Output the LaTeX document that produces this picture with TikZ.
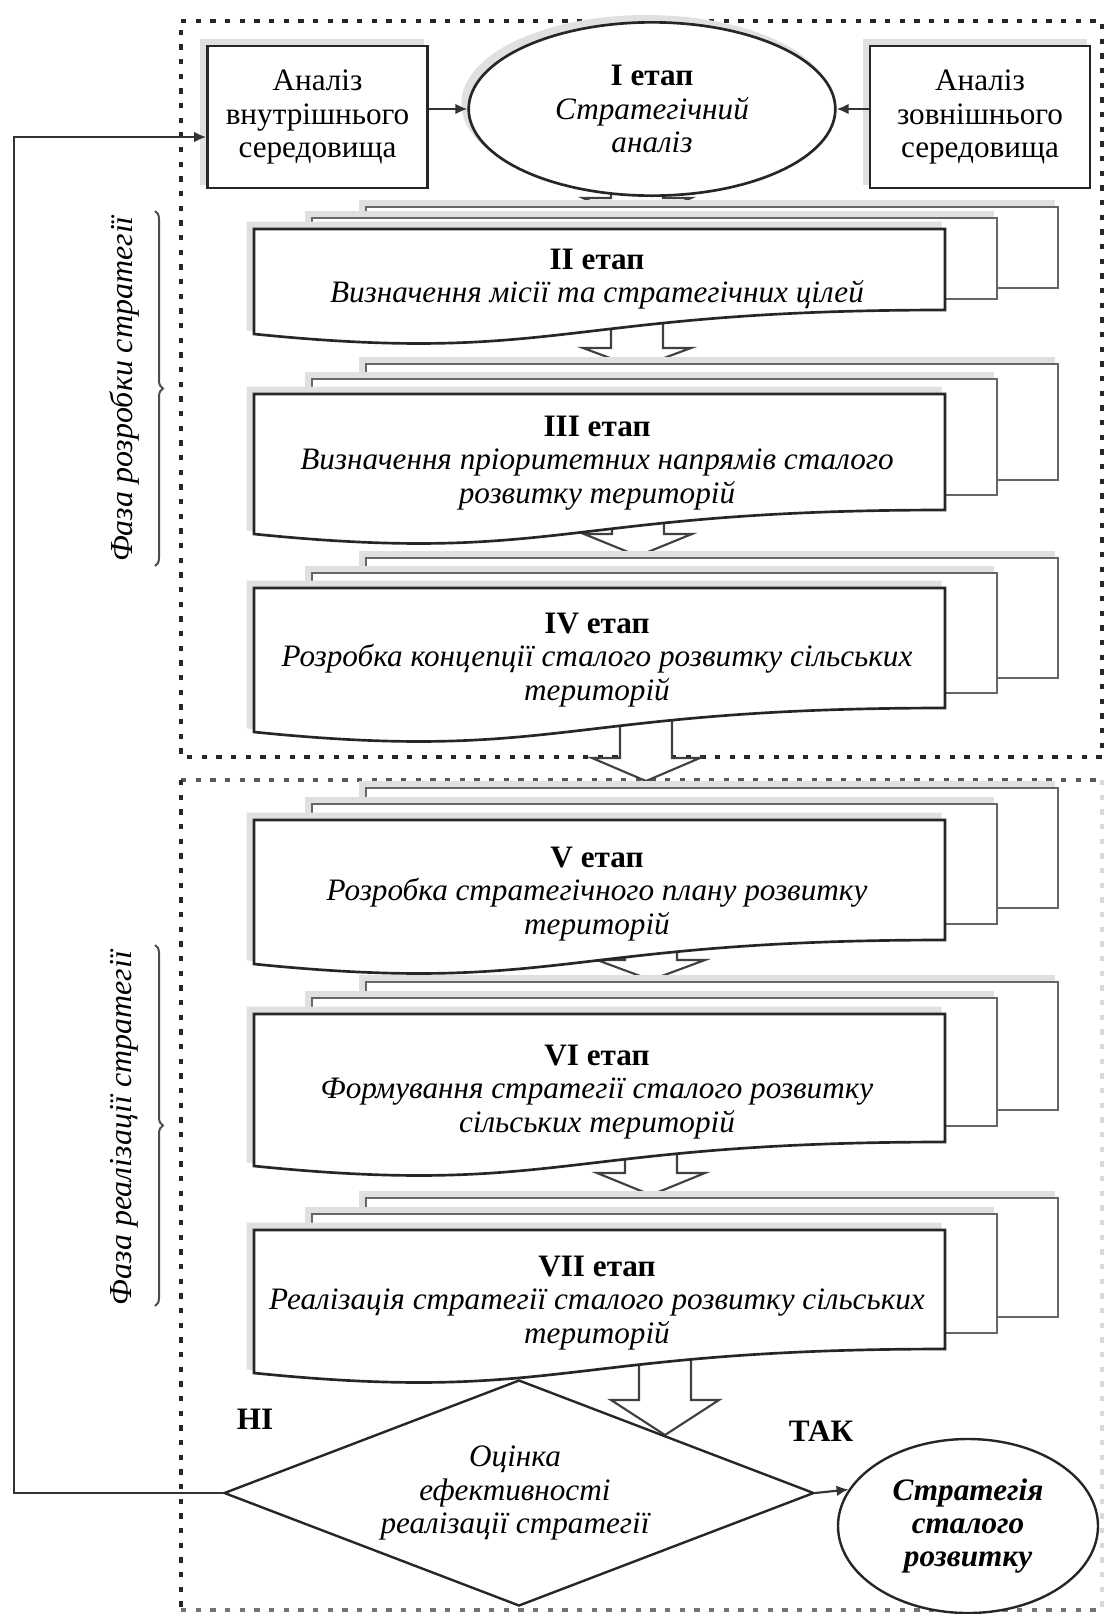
\documentclass[tikz,border=0pt]{standalone}
\usepackage{fontspec}
\setmainfont{Liberation Serif}
\usetikzlibrary{arrows.meta,shapes.geometric,decorations.pathreplacing}

\tikzset{every picture/.style={line width=0.75pt}}
\tikzset{
  dotframe/.style={draw=black!85, line width=3.5pt, dash pattern=on 4pt off 7pt},
  shade/.style={preaction={draw=black!12, fill=black!12, line width=3pt, transform canvas={shift={(-4pt,4pt)}}}},
  backdoc/.style={shade, draw=black!60, fill=white, line width=1.8pt},
  frontdoc/.style={shade, draw=black!85, fill=white, line width=2pt},
  blockarrow/.style={draw=black!75, fill=white, line width=1.6pt, line join=miter},
  sidebox/.style={shade, draw=black!85, fill=white, line width=2pt, minimum width=165pt, minimum height=106.5pt, align=center, font=\fontsize{23.4}{25}\selectfont},
  stagetext/.style={align=center, font=\fontsize{23.4}{25}\selectfont},
  link/.style={draw=black!80, line width=1.6pt, -{Latex[length=9pt,width=8pt]}},
  phase/.style={font=\fontsize{24}{25}\selectfont\itshape},
  bracket/.style={decorate, decoration={brace, amplitude=6pt}, draw=black!70, line width=1.5pt},
}

\begin{document}
\begin{tikzpicture}[x=0.75pt,y=0.75pt,yscale=-1,xscale=1]
	\useasboundingbox (0,0) rectangle (1107,1614);

	%Dotted frames
	\draw [dotframe] (181,21) -- (1102,21) -- (1102,757) -- (181,757) -- cycle ;
	\draw [dotframe, draw=black!65] (181,780) -- (1102,780) ;
	\draw [dotframe] (181,780) -- (181,1610) ;
	\draw [dotframe, draw=black!55] (181,1610) -- (1102,1610) ;
	\draw [dotframe, draw=black!15] (1102,780) -- (1102,1610) ;

	%Block arrows
	\draw [blockarrow] (611,185) -- (611,198) -- (583,198) -- (637,222) -- (691,198) -- (663,198) -- (663,185) ;
	\draw [blockarrow] (611,300) -- (611,348) -- (583,348) -- (637,368) -- (691,348) -- (663,348) -- (663,300) ;
	\draw [blockarrow] (612,515) -- (612,534) -- (584,534) -- (638,556) -- (692,534) -- (664,534) -- (664,515) ;
	\draw [blockarrow] (620,700) -- (620,758) -- (592,758) -- (646,781) -- (700,758) -- (672,758) -- (672,700) ;
	\draw [blockarrow] (625,945) -- (625,960) -- (597,960) -- (651,980) -- (705,960) -- (677,960) -- (677,945) ;
	\draw [blockarrow] (625,1150) -- (625,1173) -- (597,1173) -- (651,1195) -- (705,1173) -- (677,1173) -- (677,1150) ;
	\draw [blockarrow] (639,1360) -- (639,1400) -- (611,1400) -- (665,1435) -- (719,1400) -- (691,1400) -- (691,1360) ;

	%Stage I
	\node [sidebox] (inner) at (317.5,117) {Аналіз\\внутрішнього\\середовища};
	\node [sidebox] (outer) at (980,117) {Аналіз\\зовнішнього\\середовища};
	\node [ellipse, shade, draw=black!85, fill=white, line width=2pt, minimum width=275pt, minimum height=130pt, align=center, font=\fontsize{23.4}{25}\selectfont] (st1) at (652,109) {\textbf{I етап}\\\textit{Стратегічний}\\\textit{аналіз}};

	%Stage II
	\draw [backdoc] (366,207) rectangle (1058,288) ;
	\draw [backdoc] (312,218) rectangle (997,299) ;
	\draw [frontdoc] (254,229) -- (945,229) -- (945,310) .. controls (560,310) and (560,365) .. (254,334) -- cycle ;
	%Stage III
	\draw [backdoc] (366,364) rectangle (1058,480) ;
	\draw [backdoc] (312,379) rectangle (997,495) ;
	\draw [frontdoc] (254,394) -- (945,394) -- (945,510) .. controls (560,510) and (560,565) .. (254,534) -- cycle ;
	%Stage IV
	\draw [backdoc] (366,558) rectangle (1058,678) ;
	\draw [backdoc] (312,573) rectangle (997,693) ;
	\draw [frontdoc] (254,588) -- (945,588) -- (945,708) .. controls (560,708) and (560,763) .. (254,732) -- cycle ;
	%Stage V
	\draw [backdoc] (366,788) rectangle (1058,908) ;
	\draw [backdoc] (312,804) rectangle (997,924) ;
	\draw [frontdoc] (254,820) -- (945,820) -- (945,940) .. controls (560,940) and (560,995) .. (254,964) -- cycle ;
	%Stage VI
	\draw [backdoc] (366,982) rectangle (1058,1110) ;
	\draw [backdoc] (312,998) rectangle (997,1126) ;
	\draw [frontdoc] (254,1014) -- (945,1014) -- (945,1142) .. controls (560,1142) and (560,1197) .. (254,1166) -- cycle ;
	%Stage VII
	\draw [backdoc] (366,1198) rectangle (1058,1317) ;
	\draw [backdoc] (312,1214) rectangle (997,1333) ;
	\draw [frontdoc] (254,1230) -- (945,1230) -- (945,1349) .. controls (560,1349) and (560,1404) .. (254,1373) -- cycle ;

	%Decision and result
	\node [diamond, draw=black!85, line width=1.8pt, minimum width=442.5pt, minimum height=169.5pt, inner sep=0pt] (dec) at (519,1493) {};
	\node [ellipse, draw=black!85, fill=white, line width=1.8pt, minimum width=195pt, minimum height=130.5pt, align=center, font=\fontsize{23.4}{25}\selectfont\bfseries\itshape] (strat) at (968,1526) {Стратегія\\сталого\\розвитку};

	%Connectors
	\coordinate (fb) at (14,137);
	\draw [link] (inner.east |- st1.west) -- (st1.west) ;
	\draw [link] (outer.west |- st1.east) -- (st1.east) ;
	\draw [link] (dec.east) -- (strat.163) ;
	\draw [link] (dec.west) -| (fb) -- (fb -| inner.west) ;

	%Braces
	\draw [bracket] (155,211) -- (155,566) ;
	\draw [bracket] (155,945) -- (155,1306) ;

	% Text Node
	\node [stagetext] (s2) at (597,279) {\textbf{II етап}\\\textit{Визначення місії та стратегічних цілей}};
	% Text Node
	\node [stagetext] (s3) at (597,463) {\textbf{III етап}\\\textit{Визначення пріоритетних напрямів сталого}\\\textit{розвитку територій}};
	% Text Node
	\node [stagetext] (s4) at (597,660) {\textbf{IV етап}\\\textit{Розробка концепції сталого розвитку сільських}\\\textit{територій}};
	% Text Node
	\node [stagetext] (s5) at (597,894) {\textbf{V етап}\\\textit{Розробка стратегічного плану розвитку}\\\textit{територій}};
	% Text Node
	\node [stagetext] (s6) at (597,1092) {\textbf{VI етап}\\\textit{Формування стратегії сталого розвитку}\\\textit{сільських територій}};
	% Text Node
	\node [stagetext] (s7) at (597,1303) {\textbf{VII етап}\\\textit{Реалізація стратегії сталого розвитку сільських}\\\textit{територій}};
	% Text Node
	\node [stagetext, font=\fontsize{23.4}{25}\selectfont\itshape] (dectext) at (515,1493) {Оцінка\\ефективності\\реалізації стратегії};
	% Text Node
	\node [stagetext, font=\fontsize{23.4}{25}\selectfont\bfseries] (no) at (255,1419) {НІ};
	% Text Node
	\node [stagetext, font=\fontsize{23.4}{25}\selectfont\bfseries] (yes) at (821,1431) {ТАК};
	% Text Node
	\node [phase, rotate=90] (ph1) at (124,389) {Фаза розробки стратегії};
	% Text Node
	\node [phase, rotate=90] (ph2) at (124,1128) {Фаза реалізації стратегії};

\end{tikzpicture}
\end{document}
